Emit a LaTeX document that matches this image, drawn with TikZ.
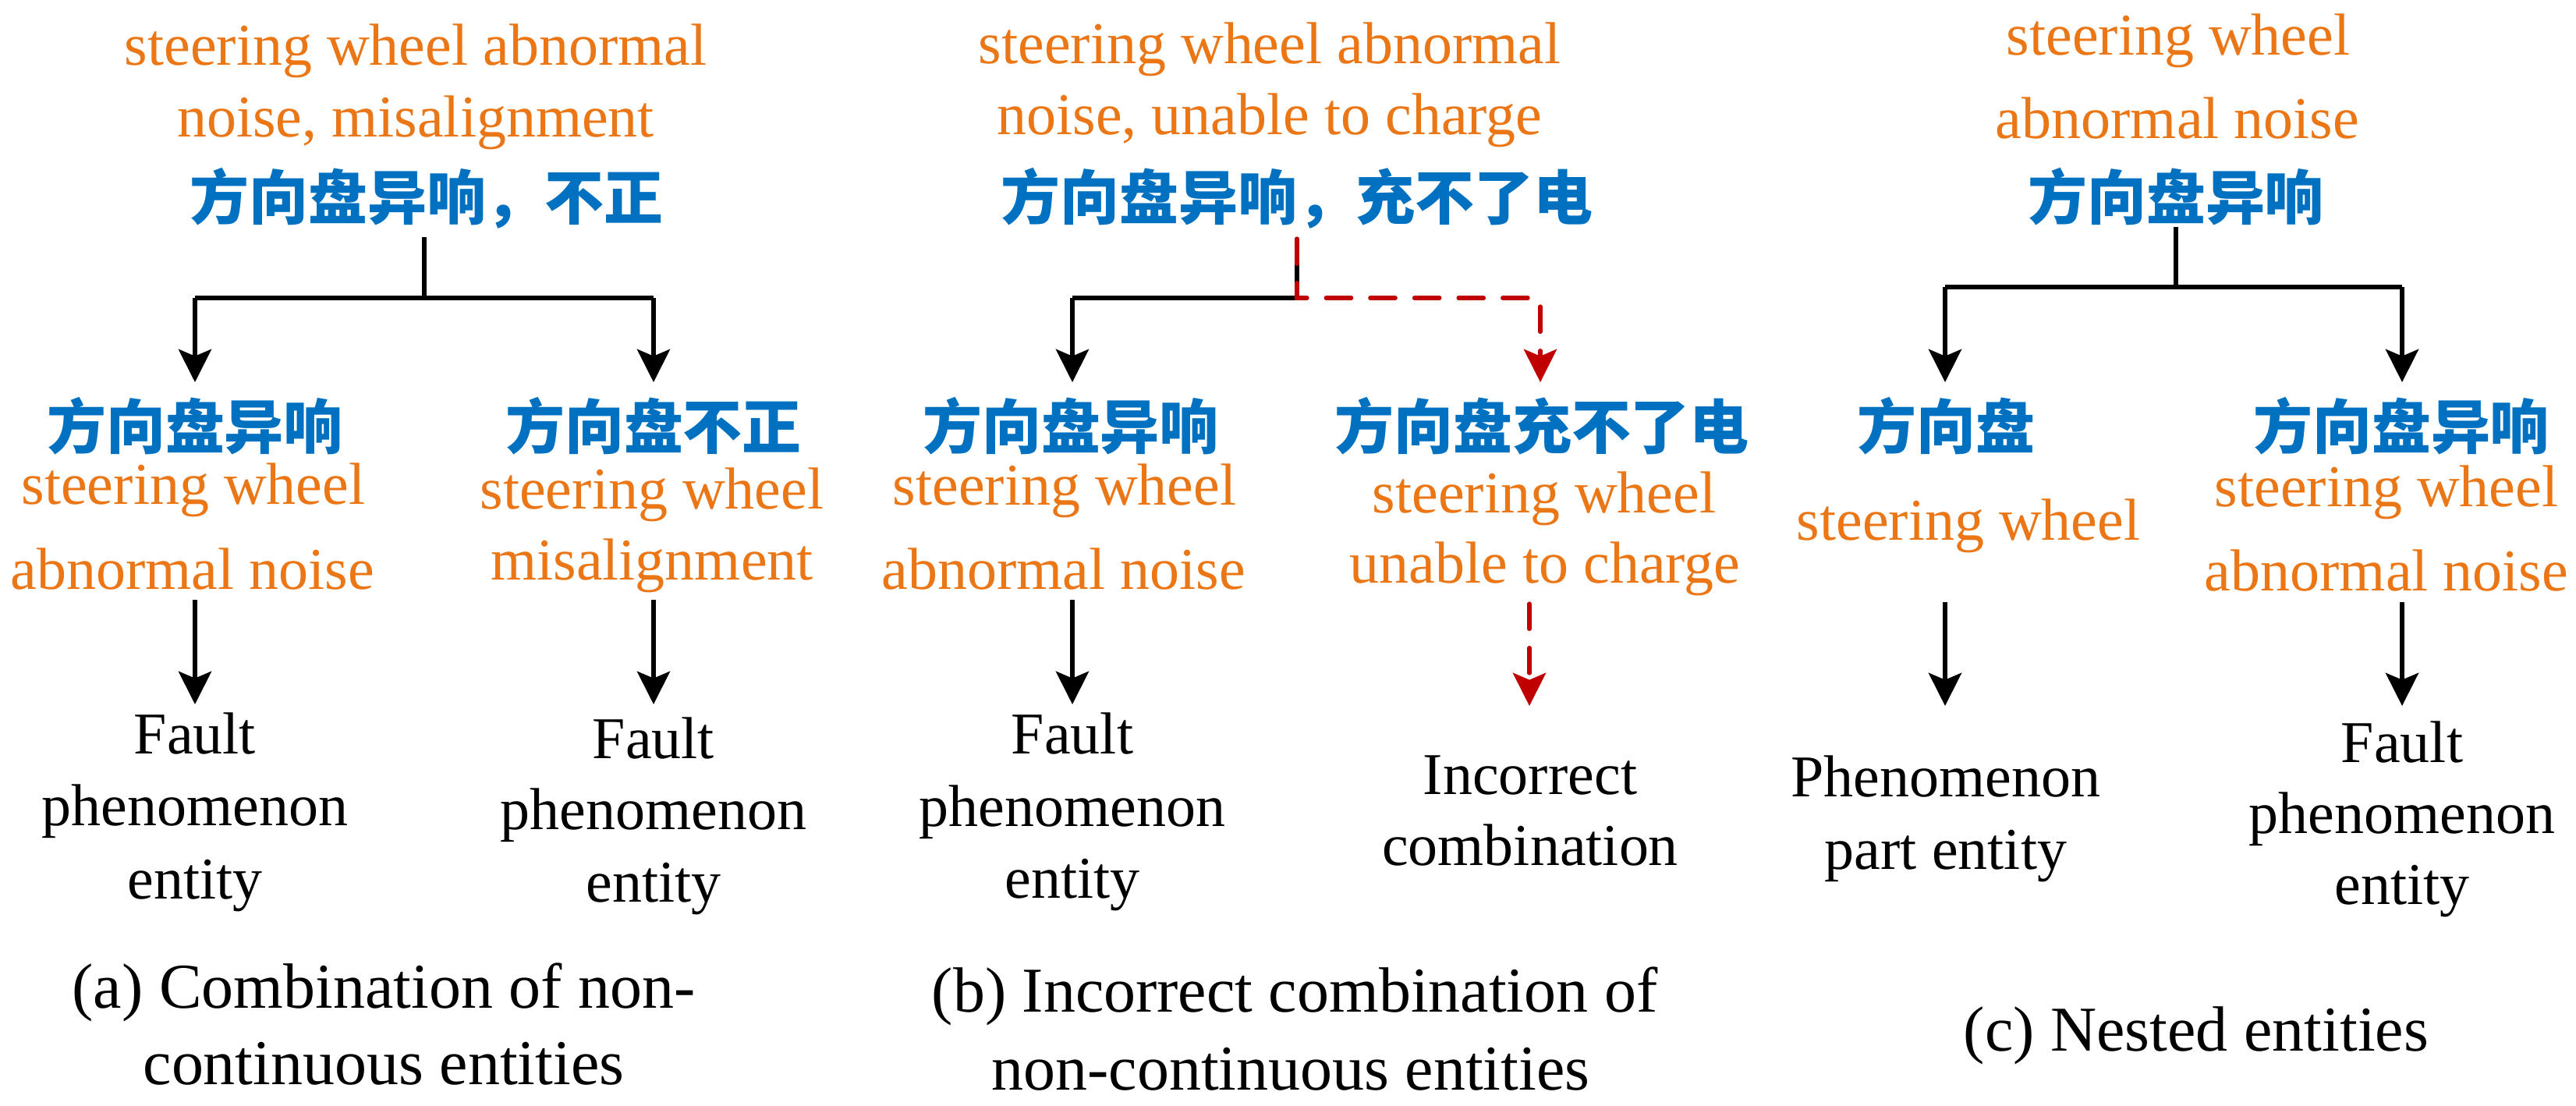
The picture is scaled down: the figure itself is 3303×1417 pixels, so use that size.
\documentclass[tikz,border=0pt]{standalone}
\usepackage{fontspec}
\setmainfont{Liberation Serif}
\newfontfamily\cjk{Noto Sans CJK SC}
\usetikzlibrary{arrows.meta}
\definecolor{orangeC}{RGB}{235,118,22}
\definecolor{blueC}{RGB}{0,112,192}
\definecolor{redC}{RGB}{192,0,0}
\begin{document}
\begin{tikzpicture}[x=0.01cm,y=-0.01cm,
  en/.style={font=\fontsize{21.6}{26}\selectfont, text=orangeC, anchor=base, inner sep=0pt},
  cn/.style={font=\cjk\bfseries\fontsize{21.6}{26}\selectfont, text=blueC, anchor=base, inner sep=0pt},
  bk/.style={font=\fontsize{21.6}{26}\selectfont, text=black, anchor=base, inner sep=0pt},
  capt/.style={font=\fontsize{23.3}{28}\selectfont, text=black, anchor=base, inner sep=0pt},
  ln/.style={line width=1.5pt, black},
  arr/.style={line width=1.5pt, black, -{Stealth[length=12pt,width=12pt,inset=2.5pt]}},
  rdash/.style={line width=1.5pt, redC, line cap=round, dash pattern=on 9.2pt off 6.9pt},
  rarr/.style={rdash, -{Stealth[length=12pt,width=12pt,inset=2.5pt]}}
]
\useasboundingbox (0,0) rectangle (3303,1417);

% ---------------- Panel (a) ----------------
\node[en] (aT1) at (533,83) {steering wheel abnormal};
\node[en] (aT2) at (533,175) {noise, misalignment};
\node[cn] (aCN) at (547,281) {方向盘异响，不正};
\coordinate (aS) at (544,304);
\coordinate (aJ) at (544,382);
\coordinate (aJL) at (250,382);
\coordinate (aJR) at (838,382);
\coordinate (aEL) at (250,490);
\coordinate (aER) at (838,490);
\draw[ln] (aS) -- (aJ);
\draw[ln] (aJL) -- (aJR);
\draw[arr] (aJL) -- (aEL);
\draw[arr] (aJR) -- (aER);
\node[cn] (aLCN) at (250,575) {方向盘异响};
\node[cn] (aRCN) at (838,575) {方向盘不正};
\node[en] (aL1) at (248,646) {steering wheel};
\node[en] (aL2) at (247,755) {abnormal noise};
\node[en] (aR1) at (836,652) {steering wheel};
\node[en] (aR2) at (836,743) {misalignment};
\coordinate (aLs) at (250,769);
\coordinate (aLe) at (250,903);
\coordinate (aRs) at (838,769);
\coordinate (aRe) at (838,903);
\draw[arr] (aLs) -- (aLe);
\draw[arr] (aRs) -- (aRe);
\node[bk] (aLF1) at (250,966) {Fault};
\node[bk] (aLF2) at (250,1058) {phenomenon};
\node[bk] (aLF3) at (250,1152) {entity};
\node[bk] (aRF1) at (838,972) {Fault};
\node[bk] (aRF2) at (838,1063) {phenomenon};
\node[bk] (aRF3) at (838,1156) {entity};
\node[capt] (aC1) at (492,1292) {(a) Combination of non-};
\node[capt] (aC2) at (492,1390) {continuous entities};

% ---------------- Panel (b) ----------------
\node[en] (bT1) at (1628,81) {steering wheel abnormal};
\node[en] (bT2) at (1628,172) {noise, unable to charge};
\node[cn] (bCN) at (1663,281) {方向盘异响，充不了电};
\coordinate (bS) at (1663,306);
\coordinate (bJ) at (1663,382);
\coordinate (bJL) at (1375,382);
\coordinate (bJR) at (1963,382);
\coordinate (bEL) at (1375,490);
\coordinate (bV) at (1975,393);
\coordinate (bER) at (1975,490);
\draw[ln] (bS) -- (bJ) -- (bJL);
\draw[arr] (bJL) -- (bEL);
\draw[rdash] (bS) -- (bJ) -- (bJR);
\draw[rarr] (bV) -- (bER);
\node[cn] (bLCN) at (1373,575) {方向盘异响};
\node[cn] (bRCN) at (1977,575) {方向盘充不了电};
\node[en] (bL1) at (1365,647) {steering wheel};
\node[en] (bL2) at (1364,755) {abnormal noise};
\node[en] (bR1) at (1980,657) {steering wheel};
\node[en] (bR2) at (1981,747) {unable to charge};
\coordinate (bLs) at (1375,769);
\coordinate (bLe) at (1375,903);
\coordinate (bRs) at (1961,774);
\coordinate (bRe) at (1961,905);
\draw[arr] (bLs) -- (bLe);
\draw[rarr] (bRs) -- (bRe);
\node[bk] (bLF1) at (1375,966) {Fault};
\node[bk] (bLF2) at (1375,1059) {phenomenon};
\node[bk] (bLF3) at (1375,1151) {entity};
\node[bk] (bRF1) at (1962,1018) {Incorrect};
\node[bk] (bRF2) at (1962,1109) {combination};
\node[capt] (bC1) at (1660,1297) {(b) Incorrect combination of};
\node[capt] (bC2) at (1655,1397) {non-continuous entities};

% ---------------- Panel (c) ----------------
\node[en] (cT1) at (2793,70) {steering wheel};
\node[en] (cT2) at (2792,177) {abnormal noise};
\node[cn] (cCN) at (2790,281) {方向盘异响};
\coordinate (cS) at (2790,291);
\coordinate (cJ) at (2790,368);
\coordinate (cJL) at (2494,368);
\coordinate (cJR) at (3080,368);
\coordinate (cEL) at (2494,490);
\coordinate (cER) at (3080,490);
\draw[ln] (cS) -- (cJ);
\draw[ln] (cJL) -- (cJR);
\draw[arr] (cJL) -- (cEL);
\draw[arr] (cJR) -- (cER);
\node[cn] (cLCN) at (2495,575) {方向盘};
\node[en] (cL1) at (2524,692) {steering wheel};
\node[cn] (cRCN) at (3079,575) {方向盘异响};
\node[en] (cR1) at (3060,649) {steering wheel};
\node[en] (cR2) at (3060,757) {abnormal noise};
\coordinate (cLs) at (2494,772);
\coordinate (cLe) at (2494,905);
\coordinate (cRs) at (3080,772);
\coordinate (cRe) at (3080,905);
\draw[arr] (cLs) -- (cLe);
\draw[arr] (cRs) -- (cRe);
\node[bk] (cLF1) at (2495,1021) {Phenomenon};
\node[bk] (cLF2) at (2495,1114) {part entity};
\node[bk] (cRF1) at (3080,977) {Fault};
\node[bk] (cRF2) at (3080,1068) {phenomenon};
\node[bk] (cRF3) at (3080,1159) {entity};
\node[capt] (cC1) at (2816,1347) {(c) Nested entities};
\end{tikzpicture}
\end{document}
